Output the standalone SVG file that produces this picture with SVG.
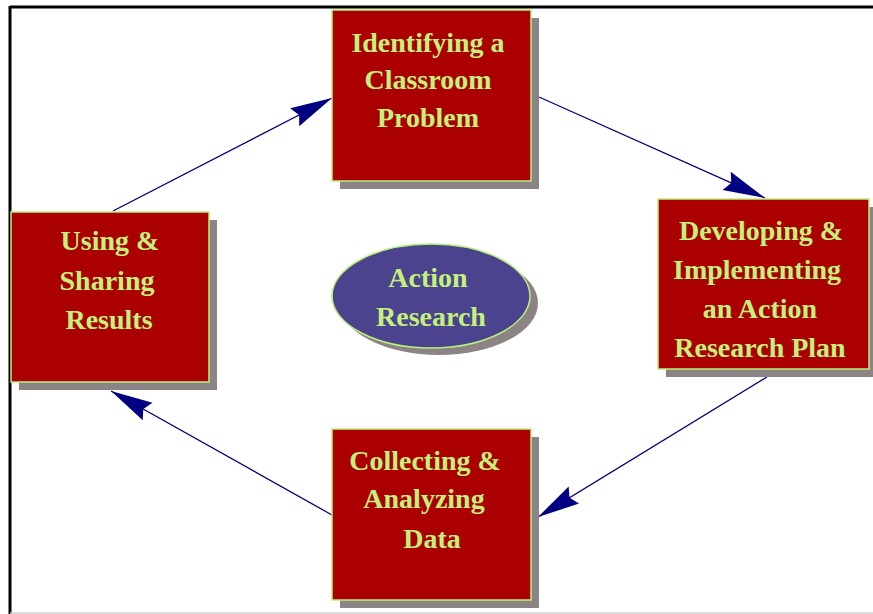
<svg xmlns="http://www.w3.org/2000/svg" width="873" height="614" viewBox="0 0 873 614">
<style>
.shadow{fill:#8c8484}
.box{fill:#aa0000;stroke:#b8f07c;stroke-width:1.5}
.oval{fill:#4b438e;stroke:#b8f07c;stroke-width:1.5}
.lbl{font-family:"Liberation Serif","Times New Roman",serif;font-weight:bold;font-size:28px;fill:#c4f07c;text-anchor:middle}
.conn{stroke:#000080;stroke-width:1.3;fill:none;marker-end:url(#arr)}
</style>
<defs>
<marker id="arr" markerUnits="userSpaceOnUse" markerWidth="50" markerHeight="26" viewBox="-46 -13 50 26" refX="0" refY="0" orient="auto">
<path d="M0,0 L-42,-10 L-37,0 L-42,10 Z" fill="#000080"/>
</marker>
</defs>
<rect x="0" y="0" width="873" height="614" fill="#ffffff"/>
<g id="frame">
<line x1="10" y1="7" x2="873" y2="7" stroke="#000" stroke-width="3"/>
<line x1="10" y1="6" x2="10" y2="614" stroke="#000" stroke-width="3"/>
<line x1="10" y1="613" x2="873" y2="613" stroke="#d0d0d0" stroke-width="1.5"/>
</g>
<g id="connectors">
<line class="conn" x1="113" y1="211" x2="332" y2="98"/>
<line class="conn" x1="539" y1="97" x2="765" y2="198"/>
<line class="conn" x1="767" y1="377" x2="538" y2="517"/>
<line class="conn" x1="332" y1="515" x2="111" y2="391"/>
</g>
<g id="identify">
<rect class="shadow" x="340" y="18" width="199" height="171"/>
<rect class="box" x="332" y="10" width="199" height="171"/>
<text class="lbl" x="428" y="52">Identifying a</text>
<text class="lbl" x="428" y="89">Classroom</text>
<text class="lbl" x="428" y="127">Problem</text>
</g>
<g id="develop">
<rect class="shadow" x="666" y="207" width="211" height="170"/>
<rect class="box" x="658" y="199" width="211" height="170"/>
<text class="lbl" x="761" y="240">Developing &amp;</text>
<text class="lbl" x="757" y="279">Implementing</text>
<text class="lbl" x="760" y="318">an Action</text>
<text class="lbl" x="760" y="357">Research Plan</text>
</g>
<g id="collect">
<rect class="shadow" x="340" y="437" width="199" height="171"/>
<rect class="box" x="332" y="429" width="199" height="171"/>
<text class="lbl" x="425" y="470">Collecting &amp;</text>
<text class="lbl" x="424" y="508">Analyzing</text>
<text class="lbl" x="432" y="548">Data</text>
</g>
<g id="using">
<rect class="shadow" x="19" y="220" width="198" height="170"/>
<rect class="box" x="11" y="212" width="198" height="170"/>
<text class="lbl" x="110" y="250">Using &amp;</text>
<text class="lbl" x="107" y="290">Sharing</text>
<text class="lbl" x="109" y="329">Results</text>
</g>
<g id="action">
<ellipse class="shadow" cx="439" cy="303" rx="99" ry="52"/>
<ellipse class="oval" cx="431" cy="296" rx="99" ry="52"/>
<text class="lbl" x="428" y="287">Action</text>
<text class="lbl" x="431" y="326">Research</text>
</g>
</svg>
